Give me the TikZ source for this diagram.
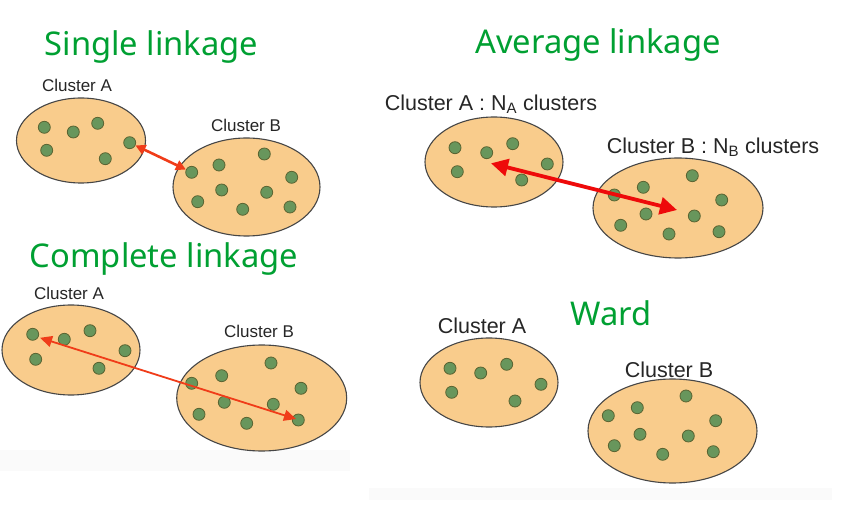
\documentclass[tikz,border=0pt]{standalone}
\usepackage{fontspec}
\setmainfont{Liberation Sans}
\newfontfamily\titlefont{Noto Sans}
\usetikzlibrary{shapes.geometric,arrows.meta}
\definecolor{ttlgreen}{RGB}{0,160,50}
\definecolor{clfill}{RGB}{249,204,140}
\definecolor{clline}{RGB}{70,70,70}
\definecolor{dotfill}{RGB}{104,150,92}
\definecolor{dotline}{RGB}{90,100,50}
\definecolor{arrorange}{RGB}{240,60,25}
\definecolor{arrred}{RGB}{238,10,10}
\definecolor{bandgray}{RGB}{250,250,250}
\tikzset{
  ttl/.style={text=ttlgreen, font=\titlefont\fontsize{32.7}{34}\selectfont, inner sep=0pt},
  lbl/.style={text=black!85, font=\fontsize{17}{19}\selectfont, inner sep=0pt},
  lblavg/.style={text=black!85, font=\fontsize{21.5}{23}\selectfont, inner sep=0pt},
  lblw/.style={text=black!85, font=\fontsize{21.5}{23}\selectfont, inner sep=0pt},
  clus/.style={ellipse, draw=clline, fill=clfill, line width=1.1pt, inner sep=0pt},
  pt/.style={circle, draw=dotline, fill=dotfill, line width=0.8pt, minimum size=12pt, inner sep=0pt},
}
\begin{document}
\begin{tikzpicture}[x=1pt,y=-1pt]
\useasboundingbox (0,0) rectangle (857,521);
\fill[white] (0,0) rectangle (857,521);
% faint bands
\fill[bandgray] (0,450) rectangle (350,471);
\fill[bandgray] (369,488) rectangle (832,500);

% ===== Single linkage =====
\node[ttl] (t1) at (151.5,47) {Single linkage};
\node[lbl] (s1la) at (77,85) {Cluster A};
\node[lbl] (s1lb) at (246,125) {Cluster B};
\node[clus, minimum width=129pt, minimum height=85pt] (s1ea) at (81,140.5) {};
\node[clus, minimum width=147pt, minimum height=98pt] (s1eb) at (246.5,187) {};
\foreach \n/\x/\y in {1/44.3/127.3,2/73.3/132,3/97.7/123.3,4/46.7/150.3,5/105.3/158.7,6/129.7/142.7}
  \node[pt] (s1a\n) at (\x,\y) {};
\foreach \n/\x/\y in {1/191.7/172.3,2/219/165,3/264.3/154,4/291.7/177.3,5/221.7/190,6/266.7/192.3,7/197.7/201.7,8/242.7/209.3,9/290/207}
  \node[pt] (s1b\n) at (\x,\y) {};
\draw[arrorange, line width=2.6pt, {Triangle[length=10pt,width=10pt]}-{Triangle[length=10pt,width=10pt]}] (s1a6) -- (s1b1);

% ===== Average linkage =====
\node[ttl] (t2) at (598,45) {Average linkage};
\node[lblavg] (s2la) at (491,104) {Cluster A : N\textsubscript{A} clusters};
\node[lblavg] (s2lb) at (713,147) {Cluster B : N\textsubscript{B} clusters};
\node[clus, minimum width=138pt, minimum height=90pt] (s2ea) at (494,162) {};
\node[clus, minimum width=170pt, minimum height=100pt] (s2eb) at (678,208) {};
\foreach \n/\x/\y in {1/455/147.7,2/486.7/152.7,3/512.7/143.7,4/457.3/171.7,5/521.7/180,6/547.3/164}
  \node[pt] (s2a\n) at (\x,\y) {};
\foreach \n/\x/\y in {1/614.3/195,2/643.3/187.3,3/692.3/175.7,4/721.7/200,5/646/214,6/694.3/216,7/620.7/225.3,8/669/234,9/719/231.7}
  \node[pt] (s2b\n) at (\x,\y) {};
\coordinate (s2p) at (491,163.3);
\coordinate (s2q) at (677,210);
\draw[arrred, line width=3.8pt, {Triangle[length=17pt,width=17pt]}-{Triangle[length=17pt,width=17pt]}] (s2p) -- (s2q);

% ===== Complete linkage =====
\node[ttl] (t3) at (164,259) {Complete linkage};
\node[lbl] (s3la) at (69,293.5) {Cluster A};
\node[lbl] (s3lb) at (259,331.5) {Cluster B};
\node[clus, minimum width=138pt, minimum height=90pt] (s3ea) at (71,350) {};
\node[clus, minimum width=170pt, minimum height=106pt] (s3eb) at (261.7,398) {};
\foreach \n/\x/\y in {1/32.7/334.3,2/64.3/339.3,3/90/330.7,4/35.7/359.3,5/99/368.3,6/125/350.7}
  \node[pt] (s3a\n) at (\x,\y) {};
\foreach \n/\x/\y in {1/191.7/383.3,2/221.7/375.7,3/271/363,4/301/388.3,5/224.3/402.3,6/273.3/404.3,7/199/414.3,8/246.7/423.3,9/298.3/420}
  \node[pt] (s3b\n) at (\x,\y) {};
\coordinate (s3p) at (40,337.8);
\coordinate (s3q) at (296,419);
\draw[arrorange, line width=1.8pt, {Triangle[length=12pt,width=11pt]}-{Triangle[length=12pt,width=11pt]}] (s3p) -- (s3q);

% ===== Ward =====
\node[ttl] (t4) at (611,313) {Ward};
\node[lblw] (s4la) at (482,325.5) {Cluster A};
\node[lblw] (s4lb) at (669,369.5) {Cluster B};
\node[clus, minimum width=138pt, minimum height=89pt] (s4ea) at (489,382.5) {};
\node[clus, minimum width=169pt, minimum height=104pt] (s4eb) at (672.5,431) {};
\foreach \n/\x/\y in {1/450/368.3,2/480.7/373,3/506.7/364.3,4/451.7/392.3,5/515/401,6/541/384.3}
  \node[pt] (s4a\n) at (\x,\y) {};
\foreach \n/\x/\y in {1/608.3/415.7,2/637.3/407.7,3/686/396,4/715.7/420.7,5/640/434.3,6/688.3/436,7/614.3/445.7,8/662.7/454.3,9/713.3/451.7}
  \node[pt] (s4b\n) at (\x,\y) {};
\end{tikzpicture}
\end{document}
